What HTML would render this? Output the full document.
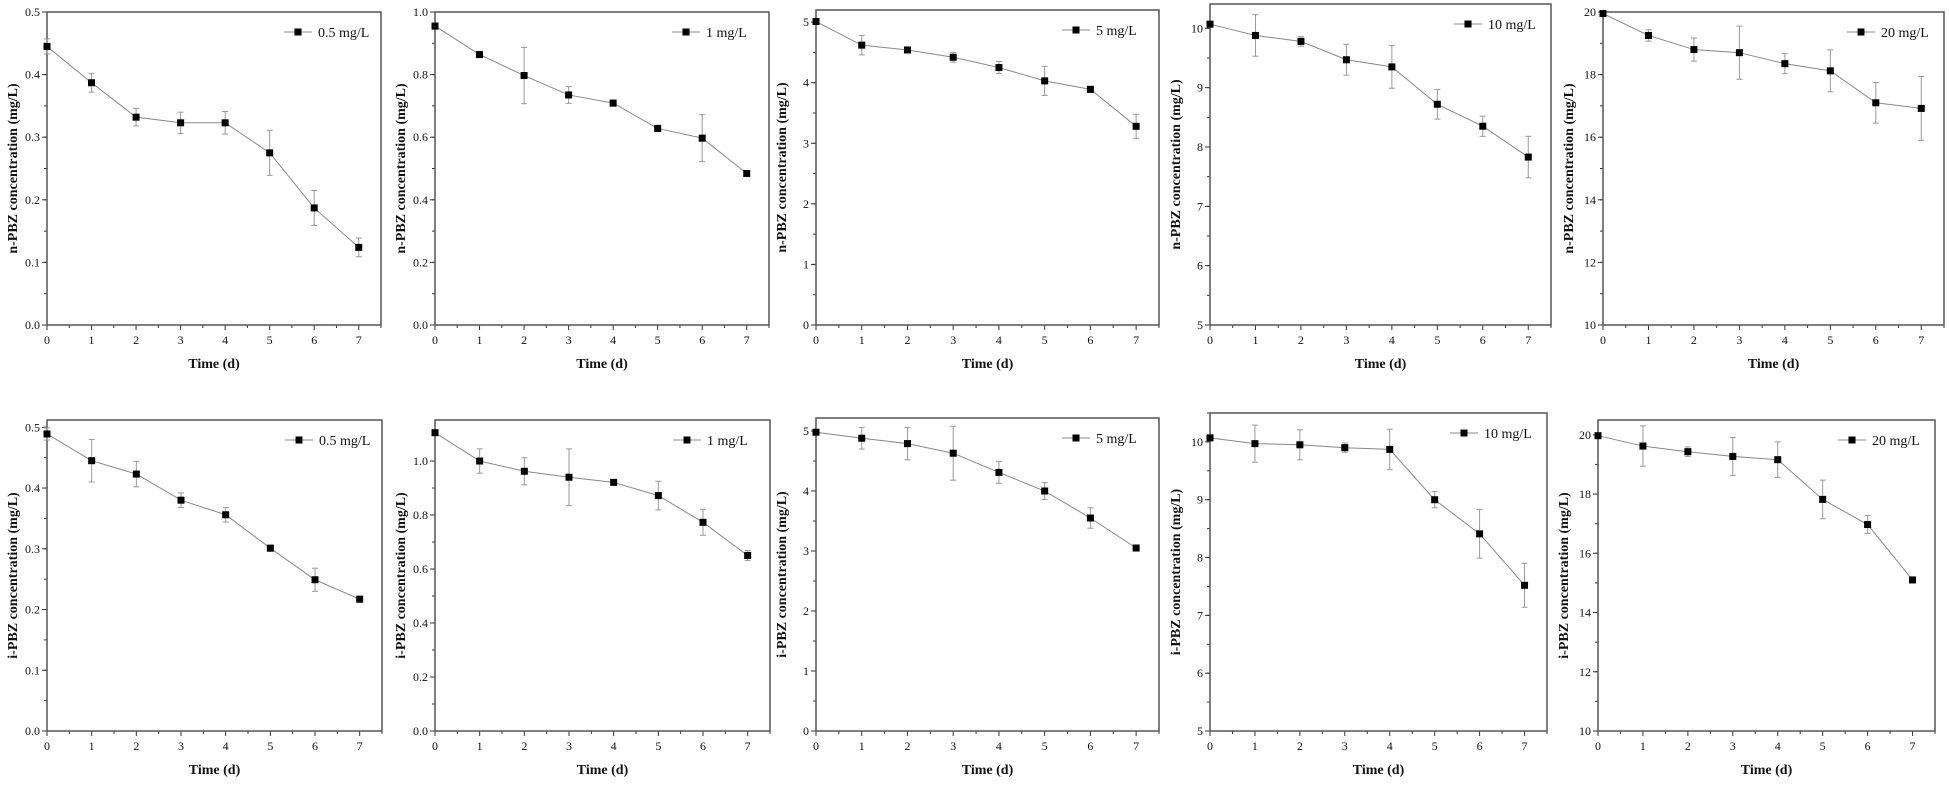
<!DOCTYPE html>
<html><head><meta charset="utf-8"><style>
body{margin:0;background:#fff;}
svg{display:block;}
text{font-family:"Liberation Serif",serif;fill:#111;}
</style></head><body>
<svg id="s" width="1949" height="796" xmlns="http://www.w3.org/2000/svg"></svg>
<script>
const P=[
{l:47,r:381,t:12,b:325,y0:0,y1:0.5,st:0.1,mn:0.05,d:1,lab:"n",leg:"0.5 mg/L",
 v:[.445,.387,.332,.323,.323,.275,.187,.124],e:[.012,.015,.014,.017,.018,.036,.028,.015]},
{l:435,r:769,t:12,b:325,y0:0,y1:1.0,st:0.2,mn:0.1,d:1,lab:"n",leg:"1 mg/L",
 v:[.955,.864,.797,.735,.709,.628,.597,.484],e:[.01,.01,.09,.027,.01,.01,.075,.008]},
{l:816,r:1159,t:10,b:325,y0:0,y1:5.2,st:1,mn:0.5,d:0,lab:"n",leg:"5 mg/L",
 v:[5.01,4.62,4.54,4.42,4.25,4.03,3.89,3.28],e:[.05,.16,.05,.08,.1,.24,.05,.2]},
{l:1210,r:1551,t:4,b:325,y0:5,y1:10.41,st:1,mn:0.5,d:0,lab:"n",leg:"10 mg/L",
 v:[10.07,9.88,9.78,9.47,9.35,8.72,8.35,7.83],e:[.05,.35,.08,.26,.36,.25,.17,.35]},
{l:1603,r:1944,t:12,b:325,y0:10,y1:20,st:2,mn:1,d:0,lab:"n",leg:"20 mg/L",
 v:[19.95,19.25,18.8,18.7,18.35,18.12,17.1,16.92],e:[.05,.18,.37,.85,.32,.67,.65,1.02]},
{l:47,r:382,t:420,b:731,y0:0,y1:0.512,st:0.1,mn:0.05,d:1,lab:"i",leg:"0.5 mg/L",
 v:[.489,.445,.423,.380,.356,.301,.249,.217],e:[.01,.035,.021,.012,.012,.005,.019,.005]},
{l:435,r:770,t:420,b:731,y0:0,y1:1.152,st:0.2,mn:0.1,d:1,lab:"i",leg:"1 mg/L",
 v:[1.105,1.0,.962,.940,.921,.872,.773,.650],e:[.01,.045,.05,.105,.01,.053,.048,.018]},
{l:816,r:1159,t:418,b:731,y0:0,y1:5.217,st:1,mn:0.5,d:0,lab:"i",leg:"5 mg/L",
 v:[4.98,4.88,4.79,4.63,4.31,4.0,3.55,3.05],e:[.03,.18,.27,.45,.18,.14,.17,.03]},
{l:1210,r:1547,t:413,b:731,y0:5,y1:10.5,st:1,mn:0.5,d:0,lab:"i",leg:"10 mg/L",
 v:[10.07,9.97,9.95,9.90,9.87,9.0,8.41,7.52],e:[.05,.32,.26,.08,.35,.14,.42,.38]},
{l:1598,r:1935,t:420,b:731,y0:10,y1:20.5,st:2,mn:1,d:0,lab:"i",leg:"20 mg/L",
 v:[19.97,19.62,19.43,19.27,19.16,17.82,16.97,15.1],e:[.03,.68,.16,.64,.6,.65,.3,.1]}
];
let h="";
for(const p of P){
 const X=d=>p.l+d/7.5*(p.r-p.l), Y=v=>p.b-(v-p.y0)/(p.y1-p.y0)*(p.b-p.t);
 for(let v=p.y0;v<=p.y1+1e-9;v+=p.mn){h+=`<line x1="${p.l-3}" x2="${p.l}" y1="${Y(v)}" y2="${Y(v)}" stroke="#333" stroke-width="1"/>`;}
 for(let v=p.y0;v<=p.y1+1e-9;v+=p.st){const y=Y(v);h+=`<line x1="${p.l-5}" x2="${p.l}" y1="${y}" y2="${y}" stroke="#333" stroke-width="1"/><text x="${p.l-7}" y="${y+4}" font-size="12" text-anchor="end">${v.toFixed(p.d)}</text>`;}
 for(let d=0;d<=7.5;d+=0.5){const x=X(d);const maj=Number.isInteger(d);h+=`<line x1="${x}" x2="${x}" y1="${p.b}" y2="${p.b+(maj?5:3)}" stroke="#333" stroke-width="1"/>`;if(maj)h+=`<text x="${x}" y="${p.b+19}" font-size="12" text-anchor="middle">${d}</text>`;}
 h+=`<rect x="${p.l}" y="${p.t}" width="${p.r-p.l}" height="${p.b-p.t}" fill="none" stroke="#555" stroke-width="1.5"/>`;
 h+=`<text x="${(p.l+p.r)/2}" y="${p.b+43}" font-size="14" font-weight="bold" text-anchor="middle">Time (d)</text>`;
 const cy=(p.t+p.b)/2, cx=p.l-30;
 h+=`<text transform="translate(${cx},${cy}) rotate(-90)" font-size="14" font-weight="bold" text-anchor="middle">${p.lab}-PBZ concentration (mg/L)</text>`;
 let pts=p.v.map((v,i)=>X(i)+","+Y(v)).join(" ");
 h+=`<polyline points="${pts}" fill="none" stroke="#888" stroke-width="1"/>`;
 p.v.forEach((v,i)=>{const x=X(i),a=Y(v+p.e[i]),b=Y(v-p.e[i]);
  h+=`<g stroke="#999" stroke-width="1"><line x1="${x}" x2="${x}" y1="${a}" y2="${b}"/><line x1="${x-3}" x2="${x+3}" y1="${a}" y2="${a}"/><line x1="${x-3}" x2="${x+3}" y1="${b}" y2="${b}"/></g>`;
  h+=`<rect x="${x-3.5}" y="${Y(v)-3.5}" width="7" height="7" fill="#000"/>`;});
 const ly=p.t+20, lx=p.r-97;
 h+=`<line x1="${lx}" x2="${lx+28}" y1="${ly}" y2="${ly}" stroke="#888"/><rect x="${lx+10.5}" y="${ly-3.5}" width="7" height="7" fill="#000"/><text x="${lx+34}" y="${ly+5}" font-size="14">${p.leg}</text>`;
}
document.getElementById("s").innerHTML=h;
</script>
</body></html>
